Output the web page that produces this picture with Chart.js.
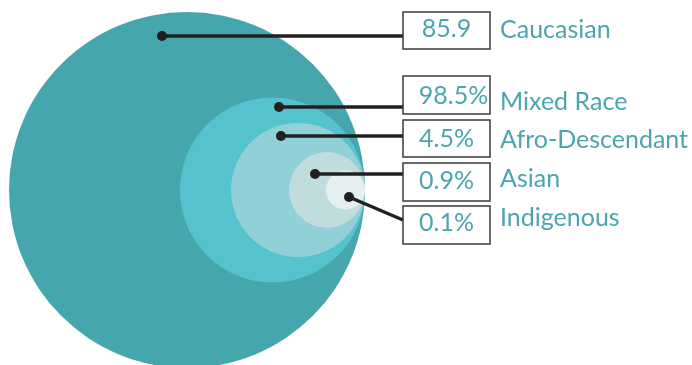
<!DOCTYPE html>
<html>
<head>
<meta charset="utf-8">
<script src="https://cdn.jsdelivr.net/npm/chart.js@4.4.0/dist/chart.umd.min.js"></script>
<style>
  html, body { margin: 0; padding: 0; background: #fff; }
  #wrap { width: 692px; height: 365px; }
</style>
</head>
<body>
<div id="wrap"><canvas id="circles"></canvas></div>
<script>
// groups, shown values and circle radii (in axis units)
const groups = ['Caucasian', 'Mixed Race', 'Afro-Descendant', 'Asian', 'Indigenous'];
const shares = ['85.9', '98.5%', '4.5%', '0.9%', '0.1%'];
const circleSize = [178, 92.5, 67, 38, 19.5];

const COLORS = {
    fills: ['#46a6ae', '#55c3cd', '#91d0d6', '#c1dcdd', '#e6efef'],
    text: '#4aa5ae',
    ink: '#231f20',
    box: '#3a3a3a',
};

// all circles touch at one point on their right side
const TOUCH_X = 365;
const TOUCH_Y = 190;

// leader dot positions and where each leader meets its box
const DOTS = [[162, 36], [279, 107], [281, 136], [315, 174], [349, 197]];
const LEADER_END_Y = [36, 107, 136, 174, 220];
const BOX = { left: 403, width: 87, tops: [12, 76, 120, 163, 206], heights: [37, 38, 37, 38, 38] };
const LABEL_X = 500;
const LABEL_BASE = [38, 110, 148, 187, 226];
const VALUE_BASE = [37, 104, 147, 189, 231];
const FONT = '25px Lato';

const points = circleSize.map((s) => ({ x: TOUCH_X - s, y: TOUCH_Y, s: s }));

const leaderPlugin = {
    id: 'leaders',
    afterDatasetsDraw(chart) {
        const { ctx, scales: { x, y } } = chart;
        ctx.save();

        for (let i = 0; i < groups.length; i++) {
            const dx = x.getPixelForValue(DOTS[i][0]);
            const dy = y.getPixelForValue(DOTS[i][1]);
            const ex = x.getPixelForValue(BOX.left);
            const ey = y.getPixelForValue(LEADER_END_Y[i]);

            ctx.strokeStyle = COLORS.ink;
            ctx.lineWidth = 3.5;
            ctx.beginPath();
            ctx.moveTo(dx, dy);
            ctx.lineTo(ex, ey);
            ctx.stroke();

            ctx.fillStyle = COLORS.ink;
            ctx.beginPath();
            ctx.arc(dx, dy, 5, 0, Math.PI * 2);
            ctx.fill();

            const top = y.getPixelForValue(BOX.tops[i]);
            ctx.strokeStyle = COLORS.box;
            ctx.lineWidth = 1.5;
            ctx.strokeRect(ex, top, BOX.width, BOX.heights[i]);

            ctx.font = FONT;
            ctx.fillStyle = COLORS.text;
            ctx.textBaseline = 'alphabetic';
            ctx.textAlign = 'center';
            ctx.fillText(shares[i], ex + BOX.width / 2 + (i === 1 ? 7 : 0), y.getPixelForValue(VALUE_BASE[i]));

            ctx.textAlign = 'left';
            ctx.fillText(groups[i], x.getPixelForValue(LABEL_X), y.getPixelForValue(LABEL_BASE[i]));
        }

        ctx.restore();
    }
};

new Chart(document.getElementById('circles'), {
    type: 'scatter',
    data: {
        datasets: [{
            label: 'Population',
            data: points,
            backgroundColor: COLORS.fills,
            borderWidth: 0,
            clip: false,
            pointStyle: 'circle',
            pointRadius: (c) => {
                const sx = c.chart.scales.x;
                return sx.getPixelForValue(c.raw.s) - sx.getPixelForValue(0);
            },
        }]
    },
    plugins: [leaderPlugin],
    options: {
        responsive: true,
        maintainAspectRatio: false,
        animation: false,
        events: [],
        layout: { padding: 0 },
        plugins: {
            legend: { display: false },
            tooltip: { enabled: false },
        },
        scales: {
            x: { type: 'linear', min: 0, max: 692, display: false },
            y: { type: 'linear', min: 0, max: 365, reverse: true, display: false },
        }
    }
});
</script>
</body>
</html>
